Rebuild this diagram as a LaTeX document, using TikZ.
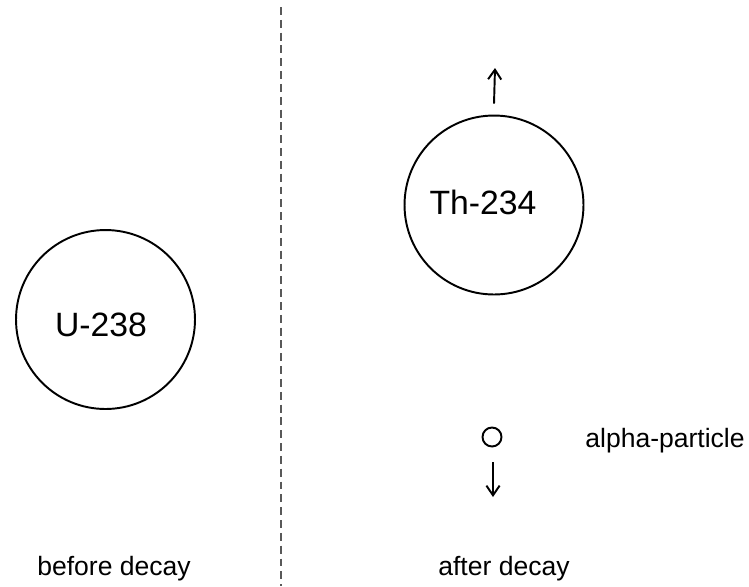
\documentclass[tikz,border=0pt]{standalone}
\usepackage{fontspec}
\setmainfont{Liberation Sans}
\usetikzlibrary{arrows.meta}

\begin{document}
\begin{tikzpicture}[x=0.02cm, y=-0.02cm,
    nucleus/.style={draw, circle, line width=1.1pt, inner sep=0pt, minimum size=3.58cm},
    particle/.style={draw, circle, line width=1.1pt, inner sep=0pt, minimum size=0.38cm},
    big/.style={font=\fontsize{19.2}{22}\selectfont, inner sep=0pt},
    small/.style={font=\fontsize{15.1}{18}\selectfont, inner sep=0pt},
    move/.style={line width=1.1pt, -{Straight Barb[length=5.5pt, width=7.5pt, line width=1.1pt]}}]
    \useasboundingbox (0, 0) rectangle (749, 586);
    %\draw[thin, red] (0, 0) rectangle (749, 586);
    \coordinate (divtop) at (281, 7);
    \coordinate (divbot) at (281, 586);
    \draw[gray!70!black, line width=0.6pt, dash pattern=on 4.5pt off 2.8pt] (divtop) -- (divbot);

    % before
    \node[nucleus] (u238) at (105.5, 319.5) {};
    \node[big] (uname) at (101, 325) {U-238};
    \node[small, anchor=base] (before) at (114, 575) {before decay};

    % after
    \node[nucleus] (th234) at (494, 205) {};
    \node[big] (thname) at (483, 202) {Th-234};
    \node[particle] (alpha) at (492, 437) {};
    \node[small, anchor=base west] (alphaname) at (585, 447) {alpha-particle};
    \node[small, anchor=base west] (after) at (438, 575) {after decay};
    \coordinate (thup) at (495, 68);
    \coordinate (alphadown) at (493, 497);
    \draw[move] (th234.north) ++(0, -11) -- (thup);
    \draw[move] (alpha.south) ++(1, 15) -- (alphadown);
\end{tikzpicture}
\end{document}
